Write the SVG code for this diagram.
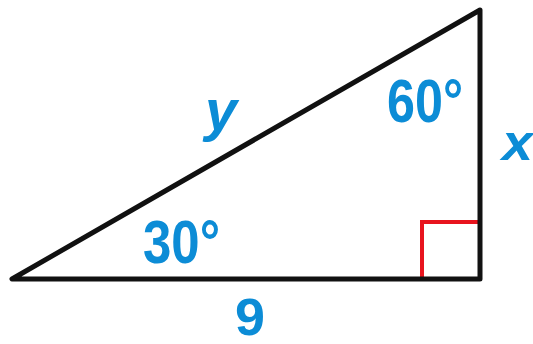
<svg xmlns="http://www.w3.org/2000/svg" width="533" height="344" viewBox="0 0 533 344">
<style>
.lbl{font-family:"Liberation Sans",Arial,sans-serif;fill:#0C8CD6;font-weight:bold}
.it{font-style:italic}
</style>
<rect width="533" height="344" fill="#fff"/>
<g id="connectors">
<polyline id="right-angle" points="422,279 422,222 480,222" fill="none" stroke="#E8141E" stroke-width="4"/>
<polygon id="triangle" points="12,279 480,279 480,10" fill="none" stroke="#111" stroke-width="5" stroke-linejoin="round"/>
</g>
<g id="label-30"><text class="lbl" x="143" y="263" font-size="62" textLength="77" lengthAdjust="spacingAndGlyphs">30°</text></g>
<g id="label-60"><text class="lbl" x="387" y="122" font-size="62" textLength="76" lengthAdjust="spacingAndGlyphs">60°</text></g>
<g id="label-9"><text class="lbl" x="235" y="335" font-size="52" textLength="30" lengthAdjust="spacingAndGlyphs">9</text></g>
<g id="label-y"><text class="lbl it" x="205" y="130" font-size="58" textLength="32" lengthAdjust="spacingAndGlyphs">y</text></g>
<g id="label-x"><text class="lbl it" x="502" y="160" font-size="50" textLength="31" lengthAdjust="spacingAndGlyphs">x</text></g>
</svg>
